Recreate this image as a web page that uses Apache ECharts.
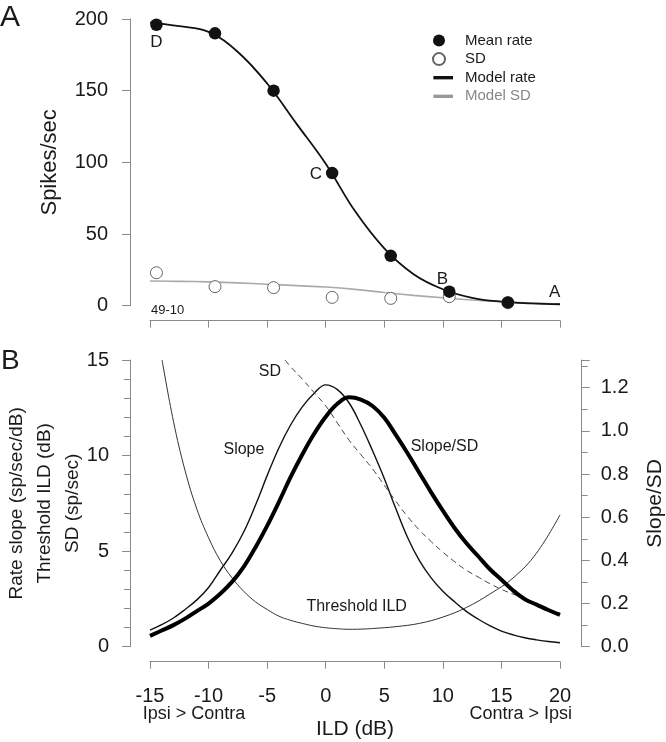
<!DOCTYPE html>
<html><head><meta charset="utf-8">
<script src="https://cdn.jsdelivr.net/npm/echarts@6/dist/echarts.min.js"></script>
<style>html,body{margin:0;padding:0;background:#fff}#c{width:666px;height:742px}</style>
</head><body><div id="c"></div>
<script>
// ---------- Panel A data ----------
const pointILD   = [-14.45, -9.45, -4.45, 0.55, 5.55, 10.55, 15.55];
const meanRate   = [196, 190, 150, 92.5, 34.8, 9.8, 2.3];
const sdRate     = [23, 13.3, 12.6, 5.8, 5.1, 6.3, 2.0];
const pointTags  = ['D', '', '', 'C', '', 'B', ''];
const modelILD   = [-15, -12.5, -10, -7.5, -5, -2.5, 0, 2.5, 5, 7.5, 10, 12.5, 15, 17.5, 20];
const modelRate  = [197.5, 195, 191, 177, 155, 127, 99, 66, 40, 22, 11.5, 5.5, 2.8, 1.6, 1.0];
const modelSD    = [17.2, 17.0, 16.6, 15.9, 15.0, 14.0, 13.0, 11.4, 9.2, 7.2, 5.5, 4.0, 2.8, 1.9, 1.2];

// ---------- Panel B data ----------
const curveILD   = [-15,-14,-13,-12,-11,-10,-9,-8,-7,-6,-5,-4,-3,-2,-1,0,1,2,3,4,5,6,7,8,9,10,11,12,13,14,15,16,17,18,19,20];
const slopeVals  = [0.87,1.15,1.5,1.95,2.45,3.1,4.0,4.9,6.0,7.4,8.95,10.4,11.6,12.55,13.25,13.7,13.45,12.75,11.6,10.25,8.8,7.2,5.7,4.5,3.6,2.9,2.35,1.85,1.45,1.1,0.82,0.62,0.47,0.36,0.27,0.21];
const slopeSDVals= [0.05,0.075,0.10,0.13,0.165,0.20,0.245,0.30,0.37,0.46,0.56,0.67,0.785,0.89,0.985,1.065,1.125,1.155,1.145,1.115,1.06,0.98,0.895,0.805,0.715,0.63,0.55,0.48,0.42,0.36,0.31,0.26,0.22,0.195,0.17,0.147];
const threshILD  = [-13.97,-13,-12,-11,-10,-9,-8,-7,-6,-5,-4,-3,-2,-1,0,1,2,3,4,6,8,10,12,14,16,18,20];
const threshVals = [15,11.8,9.2,7.2,5.7,4.5,3.6,2.9,2.35,1.95,1.6,1.38,1.22,1.08,0.99,0.94,0.91,0.92,0.95,1.05,1.22,1.55,2.05,2.75,3.6,4.9,6.9];
const sdCurveILD = [-3.47,-3,-2,-1,0,1,2,3,4,5,6,7,8,9,10,11,12,13,14,15,16,17,18,19,20];
const sdCurveVals= [15,14.65,14.0,13.3,12.6,11.7,10.8,10.05,9.3,8.45,7.6,6.8,6.1,5.5,4.95,4.45,4.0,3.65,3.3,3.0,2.75,2.5,2.2,1.95,1.75];

// tick settings
const xMin = -15, xMax = 20, xStep = 5;
const rateMax = 200, rateStep = 50;
const leftMax = 15, leftStep = 5;
const rightMax = 1.328, rightStep = 0.2;

const FONT = '"Liberation Sans", Arial, Helvetica, sans-serif';
const AX = '#8a8a8a';
const TXT = '#1a1a1a';

const zip = (xs, ys) => xs.map((x, i) => [x, ys[i]]);

const tagLabel = {
  D: {position: 'bottom', distance: 3, offset: [0, 0]},
  C: {position: 'left', distance: 4, offset: [0, 1]},
  B: {position: 'top', distance: 2, offset: [-7, 4]}
};
const meanData = pointILD.map((x, i) => {
  const t = pointTags[i];
  if (!t) return [x, meanRate[i]];
  return {value: [x, meanRate[i]], label: Object.assign({show: true, formatter: t, fontSize: 17, color: TXT, fontFamily: FONT}, tagLabel[t])};
});

const textMark = (txt, coord, size) => ({
  coord: coord, symbol: 'circle', symbolSize: 1, itemStyle: {color: 'rgba(0,0,0,0)'},
  label: {show: true, position: 'inside', formatter: txt, fontSize: size, color: TXT, fontFamily: FONT}
});

const baseX = (grid) => ({
  type: 'value', gridIndex: grid, min: xMin, max: xMax, interval: xStep, offset: 15,
  axisLine: {show: true, onZero: false, lineStyle: {color: AX, width: 1}},
  axisTick: {show: true, length: 7, inside: false, lineStyle: {color: AX}},
  splitLine: {show: false}, minorSplitLine: {show: false}
});

const chart = echarts.init(document.getElementById('c'), null, {renderer: 'canvas'});
chart.setOption({
  animation: false,
  backgroundColor: '#fff',
  textStyle: {fontFamily: FONT},
  grid: [
    {left: 150, right: 106, top: 19, height: 286.7, outerBoundsMode: 'none', containLabel: false},
    {left: 150, right: 106, top: 360, height: 286.7, outerBoundsMode: 'none', containLabel: false}
  ],
  xAxis: [
    Object.assign(baseX(0), {axisLabel: {show: false}}),
    Object.assign(baseX(1), {
      axisLabel: {show: true, fontSize: 20, margin: 25, color: TXT, fontFamily: FONT},
      name: 'ILD (dB)', nameLocation: 'middle', nameGap: 57, nameMoveOverlap: false,
      nameTextStyle: {fontSize: 21, color: TXT, fontFamily: FONT}
    })
  ],
  yAxis: [
    {
      type: 'value', gridIndex: 0, min: 0, max: rateMax, interval: rateStep, offset: 20,
      axisLine: {show: true, onZero: false, lineStyle: {color: AX}},
      axisTick: {show: true, length: 8, lineStyle: {color: AX}},
      axisLabel: {fontSize: 20, margin: 22, color: TXT, fontFamily: FONT},
      splitLine: {show: false},
      name: 'Spikes/sec', nameLocation: 'middle', nameGap: 69, nameMoveOverlap: false,
      nameTextStyle: {fontSize: 22, color: TXT, fontFamily: FONT}
    },
    {
      type: 'value', gridIndex: 1, min: 0, max: leftMax, interval: leftStep, offset: 20,
      axisLine: {show: true, onZero: false, lineStyle: {color: AX}},
      axisTick: {show: true, length: 8, lineStyle: {color: AX}},
      minorTick: {show: true, splitNumber: 5, length: 6, lineStyle: {color: AX}},
      axisLabel: {fontSize: 20, margin: 21, color: TXT, fontFamily: FONT},
      splitLine: {show: false}, minorSplitLine: {show: false},
      name: 'Rate slope (sp/sec/dB)\nThreshold ILD (dB)\nSD (sp/sec)', nameLocation: 'middle', nameGap: 43,
      nameMoveOverlap: false,
      nameTextStyle: {fontSize: 19, lineHeight: 28, color: TXT, fontFamily: FONT}
    },
    {
      type: 'value', gridIndex: 1, position: 'right', min: 0, max: rightMax, interval: rightStep, offset: 21.7,
      axisLine: {show: true, onZero: false, lineStyle: {color: AX}},
      axisTick: {show: true, length: 8, lineStyle: {color: AX}},
      minorTick: {show: true, splitNumber: 2, length: 6, lineStyle: {color: AX}},
      axisLabel: {fontSize: 20, margin: 19, color: TXT, fontFamily: FONT, showMaxLabel: false,
                  formatter: v => v.toFixed(1)},
      splitLine: {show: false}, minorSplitLine: {show: false},
      name: 'Slope/SD', nameLocation: 'middle', nameGap: 63, nameMoveOverlap: false,
      nameTextStyle: {fontSize: 21, color: TXT, fontFamily: FONT}
    }
  ],
  legend: {
    orient: 'vertical', left: 420, top: 28, itemWidth: 28, itemHeight: 12, itemGap: 3.6,
    selectedMode: false,
    textStyle: {fontSize: 15, color: TXT, fontFamily: FONT, padding: [0, 0, 0, 7]},
    data: [
      {name: 'Mean rate', icon: 'circle'},
      {name: 'SD', icon: 'circle'},
      {name: 'Model rate', icon: 'path://M0,0M28,12M9,4.2h21v3.6h-21z'},
      {name: 'Model SD', icon: 'path://M0,0M28,12M9,4.2h21v3.6h-21z', textStyle: {color: '#888'}}
    ]
  },
  graphic: [
    {type: 'text', left: 0, top: 3, style: {text: 'A', fontSize: 30, fontFamily: FONT, fill: TXT}},
    {type: 'text', left: 1, top: 347, style: {text: 'B', fontSize: 28, fontFamily: FONT, fill: TXT}},
    {type: 'text', left: 151, top: 304, style: {text: '49-10', fontSize: 13, fontFamily: FONT, fill: TXT}},
    {type: 'text', x: 194, y: 714, style: {text: 'Ipsi > Contra', fontSize: 18, fontFamily: FONT, fill: TXT, align: 'center', verticalAlign: 'middle'}},
    {type: 'text', x: 572, y: 714, style: {text: 'Contra > Ipsi', fontSize: 18, fontFamily: FONT, fill: TXT, align: 'right', verticalAlign: 'middle'}}
  ],
  series: [
    {
      name: 'Model rate', type: 'line', xAxisIndex: 0, yAxisIndex: 0, data: zip(modelILD, modelRate),
      smooth: 0.4, showSymbol: false, clip: false, z: 2, color: '#111',
      itemStyle: {color: '#111'}, lineStyle: {color: '#111', width: 1.8},
      markPoint: {silent: true, data: [textMark('A', [19.55, 9.5], 17)]}
    },
    {
      name: 'Model SD', type: 'line', xAxisIndex: 0, yAxisIndex: 0, data: zip(modelILD, modelSD),
      smooth: 0.4, showSymbol: false, clip: false, z: 1, color: '#999',
      itemStyle: {color: '#999'}, lineStyle: {color: '#aaa', width: 1.6}
    },
    {
      name: 'SD', type: 'scatter', xAxisIndex: 0, yAxisIndex: 0, data: zip(pointILD, sdRate),
      symbol: 'circle', symbolSize: 12, clip: false, z: 3,
      itemStyle: {color: '#fff', borderColor: '#666', borderWidth: 1, opacity: 1}
    },
    {
      name: 'Mean rate', type: 'scatter', xAxisIndex: 0, yAxisIndex: 0, data: meanData,
      symbol: 'circle', symbolSize: 12.5, clip: false, z: 4,
      itemStyle: {color: '#111', opacity: 1}
    },
    {
      name: 'Slope', type: 'line', xAxisIndex: 1, yAxisIndex: 1, data: zip(curveILD, slopeVals),
      smooth: 0.4, showSymbol: false, clip: false, z: 2,
      lineStyle: {color: '#111', width: 1.4},
      markPoint: {silent: true, data: [
        textMark('Slope', [-6.98, 10.29], 16),
        textMark('Slope/SD', [10.14, 10.45], 16)
      ]}
    },
    {
      name: 'Threshold ILD', type: 'line', xAxisIndex: 1, yAxisIndex: 1, data: zip(threshILD, threshVals),
      smooth: 0.4, showSymbol: false, clip: false, z: 2,
      lineStyle: {color: '#333', width: 1},
      markPoint: {silent: true, data: [textMark('Threshold ILD', [2.64, 2.08], 16)]}
    },
    {
      name: 'SD curve', type: 'line', xAxisIndex: 1, yAxisIndex: 1, data: zip(sdCurveILD, sdCurveVals),
      smooth: 0.4, showSymbol: false, clip: false, z: 2,
      lineStyle: {color: '#444', width: 1, type: [6, 4]},
      markPoint: {silent: true, data: [textMark('SD', [-4.76, 14.4], 16)]}
    },
    {
      name: 'Slope/SD', type: 'line', xAxisIndex: 1, yAxisIndex: 2, data: zip(curveILD, slopeSDVals),
      smooth: 0.4, showSymbol: false, clip: false, z: 3,
      lineStyle: {color: '#000', width: 4}
    }
  ]
});
</script>
</body></html>
